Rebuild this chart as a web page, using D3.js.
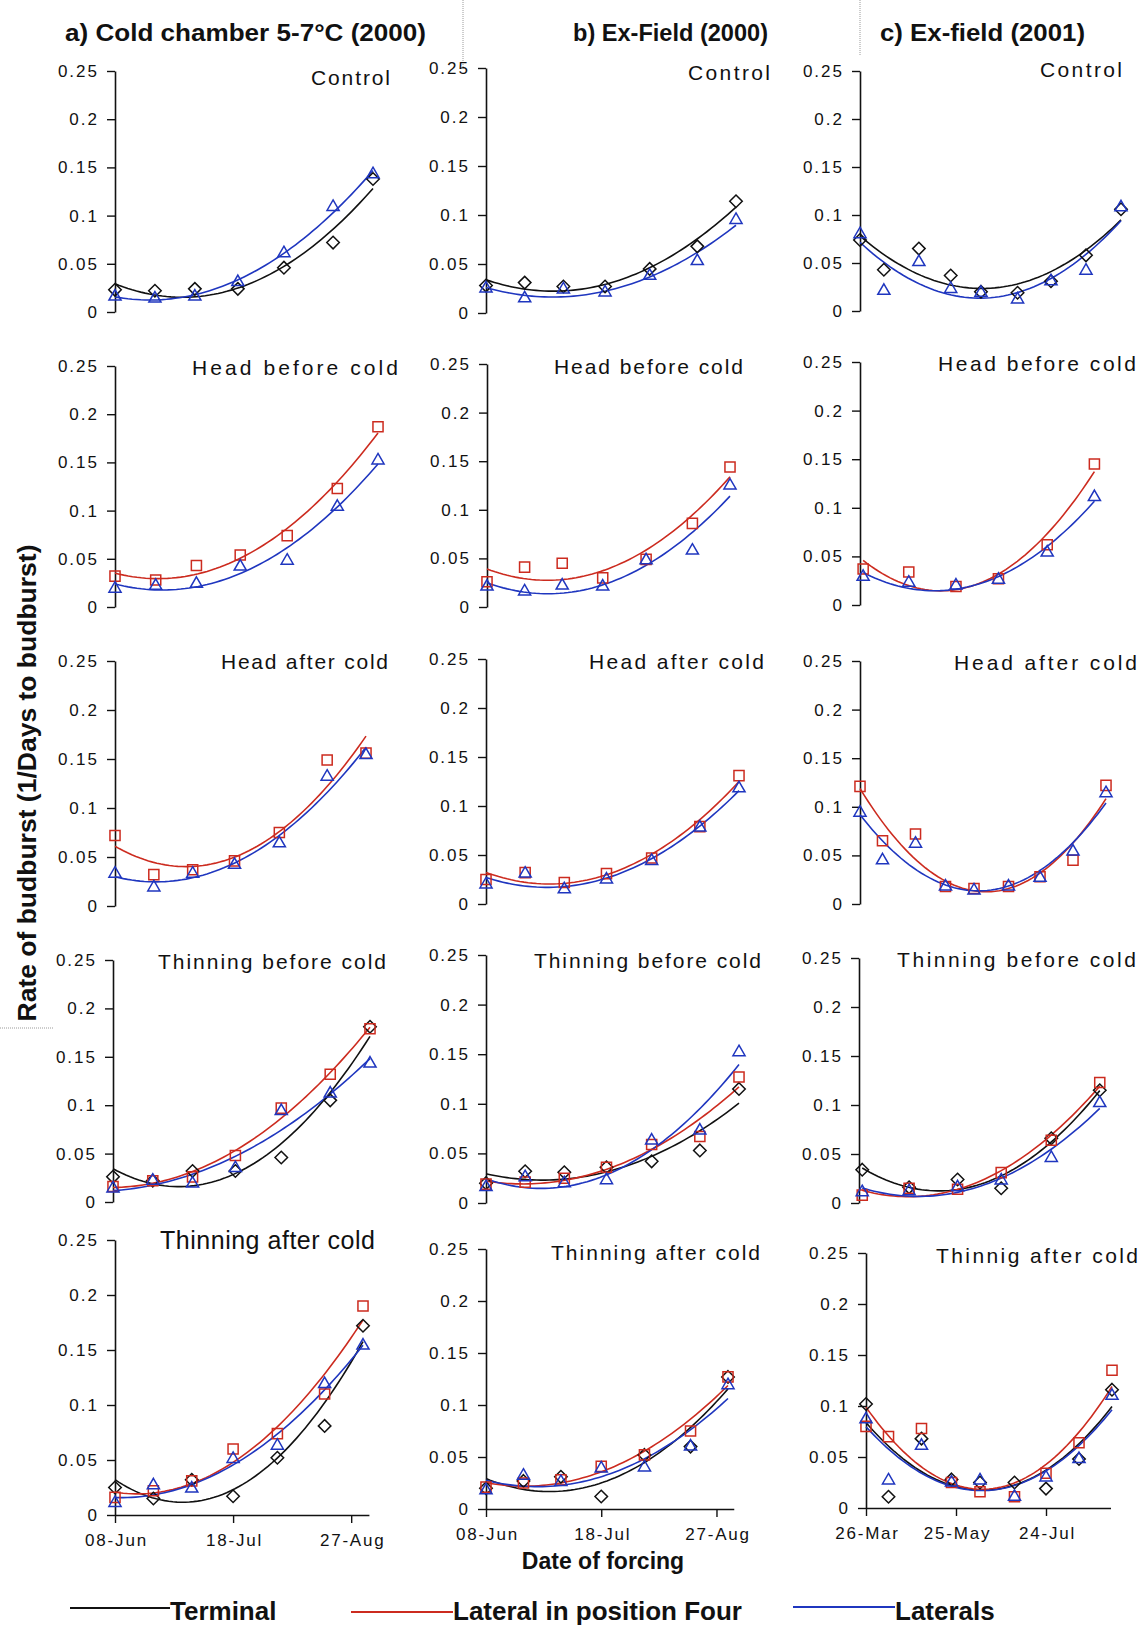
<!DOCTYPE html>
<html>
<head>
<meta charset="utf-8">
<script src="https://cdn.jsdelivr.net/npm/d3@7"></script>
<style>
  body { margin: 0; background: #fff; }
  svg text { font-family: "Liberation Sans", Arial, sans-serif; fill: #111; }
</style>
</head>
<body>
<div id="chart"></div>
<script>
// Forcing dates, as days after the first forcing of each experiment
const daysAB = [0, 13, 26, 40, 55, 71, 84];
const daysC9 = [0, 15, 37, 57, 76, 99, 120, 142, 164];
const daysC6 = [2, 31, 61, 88, 119, 149];
const cRowDays = [daysC9, daysC6, daysC9, daysC6, daysC9];

const columnTitles = ["a) Cold chamber 5-7°C (2000)", "b) Ex-Field (2000)", "c) Ex-field (2001)"];
const panelLabels = [
    ["Control", "Head before cold", "Head after cold", "Thinning before cold", "Thinning after cold"],
    ["Control", "Head before cold", "Head after cold", "Thinning before cold", "Thinning after cold"],
    ["Control", "Head before cold", "Head after cold", "Thinning before cold", "Thinnig after cold"]
];
const tickDaysAB = [0, 40, 80];
const tickLabelsAB = ["08-Jun", "18-Jul", "27-Aug"];
const tickDaysC = [0, 60, 120];
const tickLabelsC = ["26-Mar", "25-May", "24-Jul"];
const yTicks = [0, 0.05, 0.1, 0.15, 0.2, 0.25];
const yTickLabels = ["0", "0.05", "0.1", "0.15", "0.2", "0.25"];
const seriesNames = ["Terminal", "Lateral in position Four", "Laterals"];

// Rate of budburst, one row per treatment (null = series not measured)
const aTerminal = [
    [0.023, 0.022, 0.024, 0.024, 0.046, 0.072, 0.138],
    null,
    null,
    [0.026, 0.022, 0.032, 0.032, 0.046, 0.105, 0.181],
    [0.025, 0.015, 0.032, 0.017, 0.052, 0.081, 0.172]
];
const aLateral4 = [
    null,
    [0.032, 0.028, 0.043, 0.054, 0.074, 0.123, 0.187],
    [0.072, 0.032, 0.037, 0.046, 0.075, 0.149, 0.156],
    [0.016, 0.022, 0.026, 0.048, 0.097, 0.132, 0.179],
    [0.016, 0.022, 0.031, 0.060, 0.074, 0.110, 0.190]
];
const aLaterals = [
    [0.016, 0.014, 0.016, 0.031, 0.061, 0.109, 0.143],
    [0.019, 0.022, 0.024, 0.042, 0.048, 0.104, 0.152],
    [0.033, 0.019, 0.033, 0.042, 0.064, 0.132, 0.154],
    [0.014, 0.022, 0.019, 0.035, 0.094, 0.112, 0.143],
    [0.011, 0.027, 0.024, 0.051, 0.063, 0.119, 0.154]
];
const bTerminal = [
    [0.028, 0.031, 0.027, 0.027, 0.045, 0.068, 0.114],
    null,
    null,
    [0.020, 0.032, 0.031, 0.036, 0.042, 0.053, 0.115],
    [0.020, 0.027, 0.031, 0.012, 0.052, 0.060, 0.127]
];
const bLateral4 = [
    null,
    [0.026, 0.041, 0.045, 0.030, 0.049, 0.086, 0.144],
    [0.025, 0.032, 0.022, 0.031, 0.047, 0.079, 0.131],
    [0.019, 0.021, 0.025, 0.036, 0.059, 0.067, 0.127],
    [0.021, 0.025, 0.028, 0.041, 0.052, 0.075, 0.127]
];
const bLaterals = [
    [0.025, 0.015, 0.024, 0.021, 0.038, 0.053, 0.095],
    [0.021, 0.016, 0.022, 0.021, 0.048, 0.058, 0.125],
    [0.020, 0.031, 0.015, 0.025, 0.044, 0.078, 0.118],
    [0.016, 0.026, 0.020, 0.023, 0.063, 0.073, 0.152],
    [0.018, 0.032, 0.026, 0.039, 0.040, 0.060, 0.119]
];
const cTerminal = [
    [0.074, 0.043, 0.065, 0.037, 0.020, 0.019, 0.031, 0.058, 0.106],
    null,
    null,
    [0.034, 0.016, 0.024, 0.015, 0.066, 0.115],
    [0.102, 0.011, 0.068, 0.028, 0.025, 0.025, 0.019, 0.048, 0.116]
];
const cLateral4 = [
    null,
    [0.037, 0.034, 0.019, 0.027, 0.062, 0.145],
    [0.121, 0.065, 0.072, 0.018, 0.016, 0.018, 0.028, 0.045, 0.122],
    [0.008, 0.015, 0.014, 0.031, 0.064, 0.123],
    [0.080, 0.070, 0.078, 0.025, 0.016, 0.011, 0.034, 0.064, 0.135]
];
const cLaterals = [
    [0.080, 0.021, 0.051, 0.023, 0.019, 0.012, 0.031, 0.042, 0.108],
    [0.029, 0.023, 0.020, 0.026, 0.054, 0.111],
    [0.094, 0.045, 0.062, 0.018, 0.014, 0.018, 0.027, 0.054, 0.114],
    [0.011, 0.012, 0.016, 0.023, 0.046, 0.102],
    [0.087, 0.027, 0.061, 0.025, 0.027, 0.011, 0.030, 0.048, 0.110]
];

// ---- layout ----
const width = 1144, height = 1627;
const colors = ["#111111", "#cc2b1f", "#1f36bf"];
const columns = [
    { domain: [0, 86], refDay: 84, ticks: tickDaysAB, tickLabels: tickLabelsAB,
      series: [aTerminal, aLateral4, aLaterals], days: () => daysAB },
    { domain: [0, 86], refDay: 84, ticks: tickDaysAB, tickLabels: tickLabelsAB,
      series: [bTerminal, bLateral4, bLaterals], days: () => daysAB },
    { domain: [0, 163], refDay: 164, ticks: tickDaysC, tickLabels: tickLabelsC,
      series: [cTerminal, cLateral4, cLaterals], days: r => cRowDays[r] }
];
// panel frames (pixels): y axis x, x of the reference day, value 0.25 and 0
const panelLeft = [[115, 115, 115, 113, 115], [486, 487, 486, 486, 486], [860, 860, 860, 859, 866]];
const panelRefX = [[373, 378, 366, 370, 363], [736, 730, 739, 739, 728], [1121, 1118, 1106, 1124, 1112]];
const panelTop = [[71, 366, 661, 960, 1240], [68, 364, 659, 955, 1249], [71, 362, 661, 958, 1253]];
const panelBottom = [[312, 607, 906, 1202, 1515], [313, 607, 904, 1203, 1509], [311, 605, 904, 1203, 1508]];
const labelRight = [[390, 398, 388, 386, 375], [770, 743, 764, 761, 760], [1122, 1136, 1137, 1136, 1138]];
const labelWidth = [[79, 206, 167, 228, 215], [82, 189, 175, 227, 209], [82, 198, 183, 239, 202]];
const labelBase = [[85, 375, 669, 969, 1249], [80, 374, 669, 968, 1260], [77, 371, 670, 967, 1263]];

// Least-squares polynomial trendline (as the spreadsheet trendlines)
function polyFit(xs, ys, order) {
    const n = order + 1;
    const x0 = d3.min(xs), span = (d3.max(xs) - x0) || 1;
    const A = Array.from({ length: n }, () => new Array(n + 1).fill(0));
    xs.forEach((x, k) => {
        const u = (x - x0) / span;
        for (let i = 0; i < n; i++) {
            for (let j = 0; j < n; j++) A[i][j] += Math.pow(u, i + j);
            A[i][n] += Math.pow(u, i) * ys[k];
        }
    });
    for (let c = 0; c < n; c++) {
        let p = c;
        for (let r = c + 1; r < n; r++) if (Math.abs(A[r][c]) > Math.abs(A[p][c])) p = r;
        [A[c], A[p]] = [A[p], A[c]];
        for (let r = 0; r < n; r++) {
            if (r === c) continue;
            const f = A[r][c] / A[c][c];
            for (let k = c; k <= n; k++) A[r][k] -= f * A[c][k];
        }
    }
    const coef = A.map((row, i) => row[n] / row[i]);
    return x => {
        const u = (x - x0) / span;
        return coef.reduce((s, c, i) => s + c * Math.pow(u, i), 0);
    };
}

const symbolTypes = [
    d3.symbolDiamond2 || d3.symbolDiamond,
    d3.symbolSquare2 || d3.symbolSquare,
    d3.symbolTriangle2 || d3.symbolTriangle
];
const symbolSizes = [100, 130, 105];

const svg = d3.select("#chart")
    .append("svg")
    .attr("width", width)
    .attr("height", height);

// Faint scan guides
svg.append("g")
    .attr("stroke", "#9a9a9a")
    .attr("stroke-width", 1)
    .attr("stroke-dasharray", "1,1")
    .selectAll("line")
    .data([[463, 0, 463, 70], [860, 0, 860, 55], [0, 1028, 53, 1028]])
    .join("line")
    .attr("x1", d => d[0]).attr("y1", d => d[1])
    .attr("x2", d => d[2]).attr("y2", d => d[3]);

// Column titles
const titleX = [65, 573, 880];
const titleLen = [361, 195, 205];
columnTitles.forEach((t, i) => {
    svg.append("text")
        .attr("x", titleX[i])
        .attr("y", 41)
        .attr("textLength", titleLen[i])
        .attr("lengthAdjust", "spacingAndGlyphs")
        .style("font-size", "24px")
        .style("font-weight", "bold")
        .text(t);
});

columns.forEach((col, c) => {
    panelTop[c].forEach((top, r) => {
        const bottom = panelBottom[c][r];
        const left = panelLeft[c][r];
        const pxPerDay = (panelRefX[c][r] - left) / col.refDay;
        const x = d3.scaleLinear()
            .domain(col.domain)
            .range([left, left + pxPerDay * col.domain[1]]);
        const y = d3.scaleLinear().domain([0, 0.25]).range([bottom, top]);
        const days = col.days(r);
        const g = svg.append("g");

        // y axis
        const yAxis = g.append("g")
            .attr("transform", `translate(${left},0)`)
            .call(d3.axisLeft(y)
                .tickValues(yTicks)
                .tickFormat((d, i) => yTickLabels[i])
                .tickSize(8)
                .tickSizeOuter(0));
        yAxis.select(".domain").attr("stroke", "#111").attr("stroke-width", 1.6);
        yAxis.selectAll(".tick line").attr("stroke", "#111").attr("stroke-width", 1.4);
        yAxis.selectAll(".tick text")
            .attr("x", -16)
            .style("font-size", "17px")
            .style("letter-spacing", "2px")
            .style("fill", "#111");

        // x axis only on the bottom row
        if (r === panelTop[c].length - 1) {
            const xAxis = g.append("g")
                .attr("transform", `translate(0,${bottom})`)
                .call(d3.axisBottom(x)
                    .tickValues(col.ticks)
                    .tickFormat((d, i) => col.tickLabels[i])
                    .tickSize(8)
                    .tickSizeOuter(0));
            xAxis.select(".domain").attr("stroke", "#111").attr("stroke-width", 1.6);
            xAxis.selectAll(".tick line").attr("stroke", "#111").attr("stroke-width", 1.4);
            xAxis.selectAll(".tick text")
                .attr("y", 19)
                .attr("dx", "1px")
                .style("font-size", "17px")
                .style("letter-spacing", "1.8px")
                .style("fill", "#111");
        }

        // trendlines
        const line = d3.line().x(d => x(d[0])).y(d => y(d[1]));
        col.series.forEach((s, k) => {
            const vals = s[r];
            if (!vals) return;
            const f = polyFit(days, vals, 2);
            const x0 = days[0], x1 = days[days.length - 1];
            const pts = d3.range(0, 61).map(i => {
                const d = x0 + (x1 - x0) * i / 60;
                return [d, f(d)];
            });
            g.append("path")
                .attr("d", line(pts))
                .attr("fill", "none")
                .attr("stroke", colors[k])
                .attr("stroke-width", 1.6);
        });

        // markers
        col.series.forEach((s, k) => {
            const vals = s[r];
            if (!vals) return;
            g.append("g")
                .selectAll("path")
                .data(vals)
                .join("path")
                .attr("transform", (v, i) => `translate(${x(days[i])},${y(v)})`)
                .attr("d", d3.symbol().type(symbolTypes[k]).size(symbolSizes[k]))
                .attr("fill", "none")
                .attr("stroke", colors[k])
                .attr("stroke-width", 1.5);
        });

        // treatment label
        const big = (c === 0 && r === 4);
        svg.append("text")
            .attr("x", labelRight[c][r])
            .attr("y", labelBase[c][r])
            .attr("text-anchor", "end")
            .attr("textLength", labelWidth[c][r])
            .attr("lengthAdjust", "spacing")
            .style("font-size", big ? "25px" : "21px")
            .text(panelLabels[c][r]);
    });
});

// Axis titles
svg.append("text")
    .attr("transform", "rotate(-90)")
    .attr("x", -783)
    .attr("y", 36)
    .attr("text-anchor", "middle")
    .attr("textLength", 477)
    .attr("lengthAdjust", "spacingAndGlyphs")
    .style("font-size", "25px")
    .style("font-weight", "bold")
    .text("Rate of budburst (1/Days to budburst)");

svg.append("text")
    .attr("x", 603)
    .attr("y", 1569)
    .attr("text-anchor", "middle")
    .style("font-size", "23px")
    .style("font-weight", "bold")
    .text("Date of forcing");

// Legend
const legendItems = [
    { x1: 70, x2: 170, y: 1608 },
    { x1: 351, x2: 453, y: 1612 },
    { x1: 793, x2: 895, y: 1607 }
];
seriesNames.forEach((name, k) => {
    const it = legendItems[k];
    svg.append("line")
        .attr("x1", it.x1).attr("x2", it.x2)
        .attr("y1", it.y).attr("y2", it.y)
        .attr("stroke", colors[k])
        .attr("stroke-width", 2);
    svg.append("text")
        .attr("x", it.x2)
        .attr("y", 1620)
        .style("font-size", "26px")
        .style("font-weight", "bold")
        .text(name);
});
</script>
</body>
</html>
